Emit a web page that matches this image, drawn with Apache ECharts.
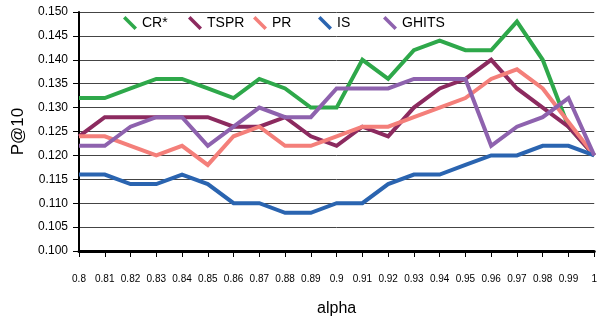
<!DOCTYPE html>
<html>
<head>
<meta charset="utf-8">
<script src="https://cdn.jsdelivr.net/npm/echarts@6/dist/echarts.min.js"></script>
<style>html,body{margin:0;padding:0;background:#fff}#c{width:600px;height:322px}</style>
</head>
<body>
<div id="c"></div>
<script>
var categories = ['0.8','0.81','0.82','0.83','0.84','0.85','0.86','0.87','0.88','0.89','0.9','0.91','0.92','0.93','0.94','0.95','0.96','0.97','0.98','0.99','1'];
var crStar = [0.132,0.132,0.134,0.136,0.136,0.134,0.132,0.136,0.134,0.130,0.130,0.140,0.136,0.142,0.144,0.142,0.142,0.148,0.140,0.126,0.120];
var tspr   = [0.124,0.128,0.128,0.128,0.128,0.128,0.126,0.126,0.128,0.124,0.122,0.126,0.124,0.130,0.134,0.136,0.140,0.134,0.130,0.126,0.120];
var pr     = [0.124,0.124,0.122,0.120,0.122,0.118,0.124,0.126,0.122,0.122,0.124,0.126,0.126,0.128,0.130,0.132,0.136,0.138,0.134,0.127,0.120];
var is     = [0.116,0.116,0.114,0.114,0.116,0.114,0.110,0.110,0.108,0.108,0.110,0.110,0.114,0.116,0.116,0.118,0.120,0.120,0.122,0.122,0.120];
var ghits  = [0.122,0.122,0.126,0.128,0.128,0.122,0.126,0.130,0.128,0.128,0.134,0.134,0.134,0.136,0.136,0.136,0.122,0.126,0.128,0.132,0.120];
var seriesNames = ['CR*','TSPR','PR','IS','GHITS'];
var seriesData = [crStar, tspr, pr, is, ghits];
var colors = ['#2ea84a','#8c2a5f','#f47f7a','#2a64b0','#8e62ae'];
var legendLeft = [123,188,253,318,383];

var FONT = '"Liberation Sans", Arial, sans-serif';
var icon = 'path://M0,1.8 L1.8,0 L10,8.2 L8.2,10 Z';

var legends = seriesNames.map(function(n,i){
  return {
    data:[n], left:legendLeft[i], top:16, padding:0,
    icon:icon, itemWidth:14, itemHeight:15, itemGap:5,
    textStyle:{fontFamily:FONT, fontSize:14, color:'#000', padding:[9,0,0,0]}
  };
});

var chart = echarts.init(document.getElementById('c'), null, {renderer:'canvas'});
chart.setOption({
  animation:false,
  color:colors,
  legend:legends,
  grid:{left:79, right:2, top:12, bottom:63, containLabel:false},
  xAxis:{
    type:'category', data:categories, boundaryGap:false,
    name:'alpha', nameLocation:'middle', nameGap:50,
    nameTextStyle:{fontFamily:FONT, fontSize:16, color:'#000'},
    axisLine:{lineStyle:{color:'#000', width:3}},
    axisTick:{show:true, length:6, alignWithLabel:true, lineStyle:{color:'#000', width:1}},
    axisLabel:{fontFamily:FONT, fontSize:10, color:'#000', margin:23, interval:0, showMaxLabel:true},
    splitLine:{show:false}
  },
  yAxis:{
    type:'value', min:0.1, max:0.15, interval:0.005,
    name:'P@10', nameLocation:'middle', nameGap:52, nameRotate:90,
    nameTextStyle:{fontFamily:FONT, fontSize:17, color:'#000'},
    axisLine:{show:true, lineStyle:{color:'#000', width:2}},
    axisTick:{show:true, length:6, lineStyle:{color:'#000', width:1}},
    axisLabel:{fontFamily:FONT, fontSize:12, color:'#000', margin:11, formatter:function(v){return v.toFixed(3);}},
    splitLine:{show:true, lineStyle:{color:'#444', width:1}}
  },
  series:seriesNames.map(function(n,i){
    return {name:n, type:'line', data:seriesData[i], showSymbol:false, symbol:'none',
      lineStyle:{width:4, color:colors[i], join:'miter'}, itemStyle:{color:colors[i]}};
  })
});
</script>
</body>
</html>
